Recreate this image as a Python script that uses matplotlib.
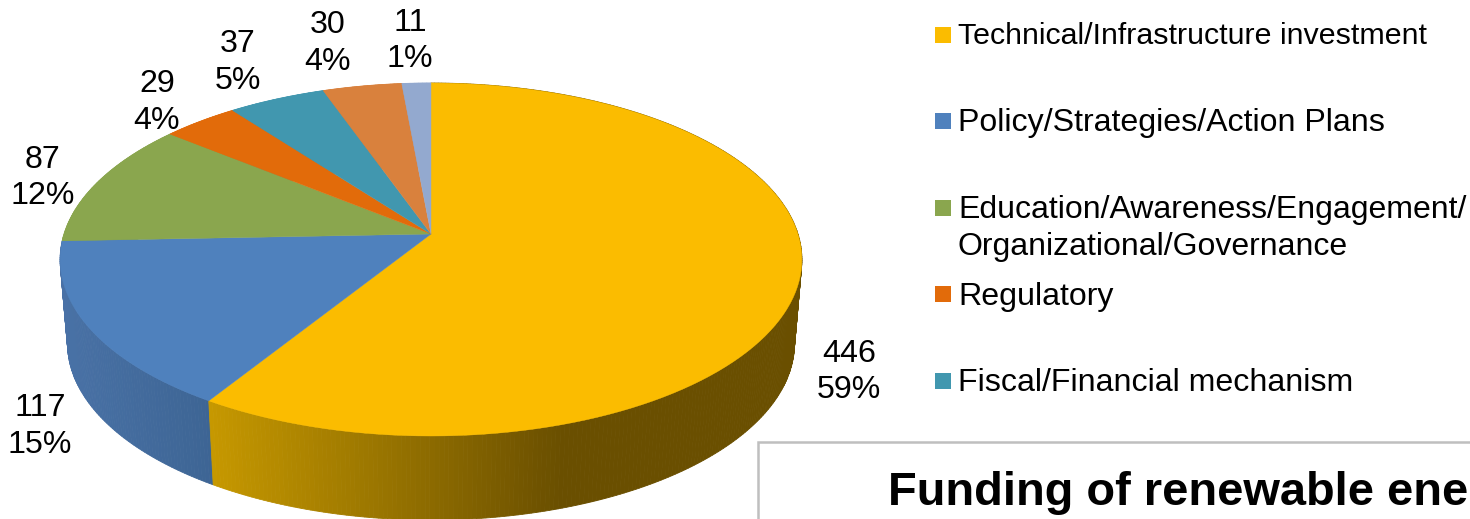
import numpy as np
import matplotlib
matplotlib.use('Agg')
import matplotlib.pyplot as plt
from matplotlib.patches import Rectangle

values = [446, 117, 87, 29, 37, 30, 11]
percents = ['59%', '15%', '12%', '4%', '5%', '4%', '1%']
slice_colors = ['#FBBC00', '#4F81BD', '#8AA64E', '#E26B0A', '#4197AF', '#D9813D', '#93A9CF']
legend_names = ['Technical/Infrastructure investment', 'Policy/Strategies/Action Plans',
                'Education/Awareness/Engagement/\nOrganizational/Governance',
                'Regulatory', 'Fiscal/Financial mechanism']

plt.rcParams['font.family'] = ['Liberation Sans', 'DejaVu Sans']

W, H = 1470, 519
fig = plt.figure(figsize=(W / 100, H / 100), dpi=100)
ax = fig.add_axes([0, 0, 1, 1])
ax.set_xlim(0, W)
ax.set_ylim(H, 0)
ax.axis('off')

# pie seen in perspective, so the centre sits above the middle of the ellipse
CX, CY = 431, 234
RX, A, C = 367, -139, 0.1445
DEPTH = 84


def top_pt(t, r=1.0):
    u, v = r * np.sin(t), r * np.cos(t)
    d = C * v + 1
    return CX + RX * u / d, (A * v + CY) / d


def bottom_pt(t):
    x, y = top_pt(t)
    return CX + (x - CX) * 0.98, y + DEPTH


def mix(c1, c2, f):
    f = min(max(f, 0), 1)
    return tuple(a + (b - a) * f for a, b in zip(c1, c2))


def wall_color(i, x):
    if i == 0:
        return mix((0.78, 0.60, 0.0), (0.415, 0.31, 0.0), (x - 208) / (560 - 208))
    if i == 1:
        return mix((0.285, 0.445, 0.65), (0.24, 0.395, 0.58), (x - 65) / (213 - 65))
    return matplotlib.colors.to_rgb(slice_colors[i])


angles = np.concatenate([[0], np.cumsum(values)]) / sum(values) * 2 * np.pi

# side wall, cut in thin strips for the gradient, back slices first
for i in reversed(range(len(values))):
    ts = np.linspace(angles[i], angles[i + 1], max(int((angles[i + 1] - angles[i]) * 90), 2))
    for t0, t1 in zip(ts[:-1], ts[1:]):
        p = [top_pt(t0), top_pt(t1), bottom_pt(t1), bottom_pt(t0)]
        xs, ys = zip(*p)
        col = wall_color(i, np.mean(xs))
        ax.fill(xs, ys, color=col, lw=0.6, zorder=1)

# top face
for i in range(len(values)):
    ts = np.linspace(angles[i], angles[i + 1], 120)
    pts = [top_pt(t) for t in ts]
    xs = [CX] + [q[0] for q in pts]
    ys = [CY] + [q[1] for q in pts]
    ax.fill(xs, ys, color=slice_colors[i], lw=0.3, zorder=2)

# data labels
label_x = [849, 40, 43, 157, 238, 328, 410]
label_y = [372, 426.5, 178, 102.5, 62.5, 43.5, 41]
for v, pc, x, y in zip(values, percents, label_x, label_y):
    ax.text(x, y, f'{v}\n{pc}', ha='center', va='center', fontsize=23.1,
            linespacing=1.3, color='black', zorder=3)

# legend, the first entry is set tighter in the original
legend_y = [35, 121, 208, 294, 381]
legend_text_y = [36, 123, 228.5, 297, 383]
legend_size = [21.9, 23.1, 23.0, 23.1, 23.1]
for name, col, y, ty, fs in zip(legend_names, slice_colors, legend_y, legend_text_y, legend_size):
    ax.add_patch(Rectangle((935, y - 8), 16, 16, color=col, lw=0, zorder=3))
    ax.text(958, ty, name, ha='left', va='center', fontsize=fs, linespacing=1.34,
            color='black', zorder=3)

# text box cut by the edge of the slide
ax.add_patch(Rectangle((758.5, 441.5), 800, 200, fc='white', ec='#BFBFBF', lw=1.8, zorder=4))
ax.text(888, 505, 'Funding of renewable ene', ha='left', va='baseline', fontsize=33.8,
        fontweight='bold', color='black', zorder=5)

fig.savefig('out.png', dpi=100)
